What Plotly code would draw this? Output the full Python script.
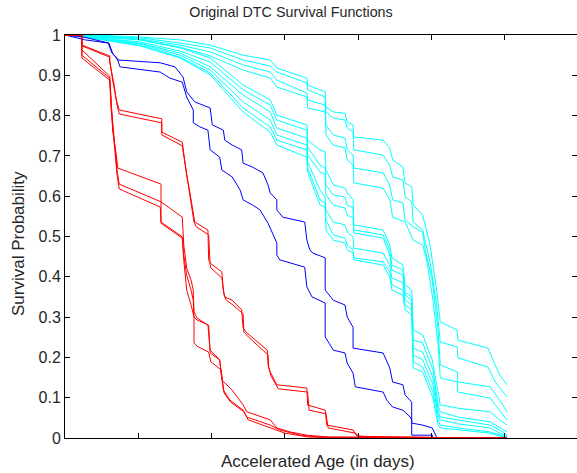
import plotly.graph_objects as go

# ---------------- data (x: accelerated age, y: survival probability) ----------------
red_A1_x = [0, 23, 23, 61, 61, 65, 70, 74, 132, 132, 160, 162, 166, 171, 175, 177, 195, 196, 198, 214, 216, 218, 228, 241, 243, 248, 276, 277, 280, 289, 330, 331, 355, 357, 393, 398, 430, 603]
red_A1_y = [1.0, 1.0, 0.975, 0.948, 0.938, 0.888, 0.839, 0.814, 0.792, 0.759, 0.734, 0.702, 0.653, 0.603, 0.553, 0.536, 0.516, 0.442, 0.434, 0.412, 0.367, 0.350, 0.342, 0.318, 0.273, 0.261, 0.218, 0.181, 0.164, 0.132, 0.124, 0.082, 0.069, 0.032, 0.020, 0.005, 0.002, 0.0]

red_A2_x = [0, 23, 23, 61, 61, 67, 71, 74, 132, 132, 160, 164, 168, 172, 176, 179, 196, 198, 199, 214, 217, 220, 229, 243, 244, 250, 277, 278, 281, 291, 331, 333, 356, 359, 396, 402, 498, 501, 603]
red_A2_y = [1.0, 1.0, 0.973, 0.945, 0.933, 0.876, 0.826, 0.804, 0.782, 0.752, 0.725, 0.677, 0.628, 0.578, 0.536, 0.524, 0.504, 0.429, 0.422, 0.397, 0.355, 0.342, 0.330, 0.308, 0.263, 0.251, 0.206, 0.174, 0.154, 0.122, 0.114, 0.069, 0.060, 0.025, 0.012, 0.004, 0.002, 0.0, 0.0]

red_B1_x = [0, 23, 23, 61, 63, 65, 70, 72, 131, 131, 160, 162, 166, 172, 175, 176, 180, 195, 198, 211, 214, 228, 243, 248, 280, 289, 307, 330, 361, 603]
red_B1_y = [1.0, 1.0, 0.963, 0.898, 0.839, 0.764, 0.702, 0.670, 0.630, 0.586, 0.548, 0.479, 0.422, 0.392, 0.367, 0.313, 0.298, 0.280, 0.218, 0.194, 0.144, 0.119, 0.082, 0.065, 0.045, 0.025, 0.015, 0.007, 0.002, 0.0]

red_B2_x = [0, 23, 23, 61, 63, 67, 71, 74, 131, 131, 160, 162, 166, 172, 175, 176, 180, 196, 198, 211, 216, 225, 243, 248, 280, 293, 321, 348, 603]
red_B2_y = [1.0, 1.0, 0.950, 0.893, 0.826, 0.739, 0.665, 0.630, 0.586, 0.536, 0.499, 0.454, 0.404, 0.367, 0.342, 0.300, 0.293, 0.280, 0.211, 0.194, 0.119, 0.094, 0.069, 0.052, 0.032, 0.020, 0.007, 0.002, 0.0]

red_B3_x = [0, 23, 23, 61, 63, 67, 71, 74, 130, 131, 160, 162, 166, 172, 176, 176, 180, 196, 199, 213, 217, 226, 244, 250, 282, 300, 334, 603]
red_B3_y = [1.0, 1.0, 0.943, 0.888, 0.814, 0.727, 0.653, 0.618, 0.573, 0.533, 0.496, 0.442, 0.367, 0.330, 0.300, 0.236, 0.228, 0.213, 0.189, 0.169, 0.112, 0.089, 0.065, 0.045, 0.025, 0.012, 0.002, 0.0]

blue_1_x = [0, 25, 60, 65, 72, 130, 150, 161, 166, 175, 177, 198, 201, 216, 218, 228, 241, 243, 256, 270, 277, 280, 289, 289, 297, 327, 330, 334, 338, 355, 355, 366, 382, 385, 393, 393, 434, 443, 447, 461, 464, 473, 473, 488, 501, 507, 509, 603]
blue_1_y = [1.0, 0.995, 0.980, 0.955, 0.938, 0.931, 0.921, 0.896, 0.859, 0.839, 0.834, 0.819, 0.777, 0.764, 0.739, 0.727, 0.715, 0.682, 0.672, 0.658, 0.628, 0.608, 0.591, 0.566, 0.548, 0.536, 0.491, 0.467, 0.459, 0.447, 0.367, 0.342, 0.330, 0.300, 0.275, 0.223, 0.211, 0.174, 0.139, 0.132, 0.107, 0.089, 0.037, 0.032, 0.025, 0.002, 0.0, 0.0]

blue_2_x = [0, 27, 59, 64, 71, 75, 130, 143, 160, 166, 175, 175, 184, 195, 198, 211, 214, 228, 239, 243, 256, 266, 277, 289, 289, 293, 327, 330, 337, 355, 355, 366, 382, 385, 393, 396, 434, 439, 447, 461, 471, 473, 473, 501, 502, 603]
blue_2_y = [1.0, 0.988, 0.980, 0.955, 0.943, 0.921, 0.908, 0.893, 0.883, 0.846, 0.814, 0.782, 0.772, 0.764, 0.715, 0.697, 0.665, 0.648, 0.615, 0.591, 0.578, 0.566, 0.533, 0.484, 0.454, 0.442, 0.424, 0.375, 0.350, 0.335, 0.251, 0.218, 0.211, 0.186, 0.161, 0.127, 0.114, 0.094, 0.077, 0.069, 0.052, 0.045, 0.007, 0.007, 0.0, 0.0]

cyan_U1_x = [0, 41, 102, 157, 198, 243, 280, 289, 330, 331, 355, 356, 366, 382, 385, 393, 394, 434, 443, 447, 461, 464, 473, 475, 488, 498, 507, 512, 535, 536, 577, 584, 593, 603]
cyan_U1_y = [1.0, 1.0, 0.995, 0.988, 0.975, 0.950, 0.938, 0.918, 0.893, 0.876, 0.859, 0.821, 0.809, 0.806, 0.784, 0.777, 0.747, 0.739, 0.720, 0.690, 0.672, 0.633, 0.623, 0.578, 0.553, 0.479, 0.367, 0.288, 0.268, 0.243, 0.223, 0.194, 0.156, 0.132]

cyan_U2_x = [0, 41, 102, 157, 198, 243, 280, 289, 330, 331, 355, 356, 366, 382, 385, 393, 394, 434, 443, 447, 461, 464, 473, 475, 488, 498, 507, 512, 535, 536, 577, 587, 603]
cyan_U2_y = [1.0, 0.998, 0.993, 0.980, 0.968, 0.938, 0.923, 0.908, 0.881, 0.864, 0.846, 0.809, 0.794, 0.789, 0.769, 0.759, 0.715, 0.702, 0.677, 0.648, 0.640, 0.598, 0.586, 0.536, 0.516, 0.437, 0.330, 0.238, 0.226, 0.199, 0.176, 0.139, 0.102]

cyan_U3_x = [0, 41, 102, 157, 198, 243, 280, 289, 330, 331, 355, 356, 366, 382, 385, 393, 394, 434, 443, 447, 461, 464, 475, 488, 491, 501, 509, 512, 535, 536, 580, 593, 603]
cyan_U3_y = [1.0, 0.998, 0.990, 0.975, 0.958, 0.926, 0.908, 0.888, 0.856, 0.839, 0.826, 0.777, 0.752, 0.744, 0.715, 0.702, 0.670, 0.658, 0.628, 0.591, 0.583, 0.541, 0.524, 0.511, 0.471, 0.392, 0.268, 0.181, 0.164, 0.139, 0.127, 0.094, 0.065]

cyan_U4_x = [0, 41, 102, 157, 198, 243, 280, 289, 330, 331, 355, 356, 366, 382, 385, 393, 394, 434, 443, 447, 464, 475, 488, 494, 502, 509, 512, 535, 536, 580, 593, 603]
cyan_U4_y = [1.0, 0.995, 0.988, 0.970, 0.948, 0.913, 0.893, 0.871, 0.846, 0.819, 0.809, 0.752, 0.727, 0.720, 0.690, 0.677, 0.633, 0.620, 0.591, 0.548, 0.536, 0.491, 0.479, 0.437, 0.342, 0.231, 0.149, 0.139, 0.114, 0.099, 0.069, 0.045]

cyan_L1_x = [0, 34, 102, 157, 198, 243, 280, 289, 330, 331, 348, 355, 356, 366, 382, 385, 393, 394, 434, 443, 446, 461, 464, 473, 475, 488, 501, 509, 512, 536, 580, 593, 603]
cyan_L1_y = [1.0, 0.998, 0.988, 0.968, 0.943, 0.876, 0.839, 0.801, 0.777, 0.739, 0.715, 0.710, 0.665, 0.628, 0.620, 0.608, 0.591, 0.529, 0.516, 0.479, 0.447, 0.429, 0.380, 0.367, 0.268, 0.256, 0.194, 0.107, 0.082, 0.074, 0.065, 0.045, 0.032]

cyan_L2_x = [0, 34, 102, 157, 198, 243, 280, 289, 330, 331, 348, 355, 356, 366, 382, 385, 393, 394, 434, 443, 446, 461, 464, 473, 475, 488, 502, 509, 512, 536, 580, 593, 603]
cyan_L2_y = [1.0, 0.995, 0.983, 0.960, 0.933, 0.864, 0.826, 0.789, 0.764, 0.722, 0.677, 0.670, 0.628, 0.603, 0.598, 0.578, 0.571, 0.516, 0.504, 0.467, 0.429, 0.417, 0.362, 0.350, 0.243, 0.236, 0.169, 0.082, 0.065, 0.052, 0.040, 0.025, 0.015]

cyan_L3_x = [0, 34, 102, 157, 198, 243, 280, 289, 330, 331, 348, 355, 356, 366, 382, 385, 393, 394, 434, 443, 446, 461, 464, 473, 475, 488, 502, 509, 512, 536, 580, 593, 603]
cyan_L3_y = [1.0, 0.995, 0.980, 0.955, 0.921, 0.851, 0.809, 0.769, 0.744, 0.702, 0.660, 0.653, 0.603, 0.578, 0.571, 0.553, 0.546, 0.509, 0.496, 0.454, 0.417, 0.404, 0.355, 0.342, 0.223, 0.213, 0.149, 0.069, 0.052, 0.045, 0.032, 0.020, 0.007]

cyan_L4_x = [0, 34, 102, 157, 198, 243, 280, 289, 330, 331, 348, 355, 356, 366, 382, 385, 393, 394, 434, 443, 446, 461, 464, 473, 475, 488, 502, 509, 512, 536, 580, 593, 603]
cyan_L4_y = [1.0, 0.993, 0.978, 0.950, 0.913, 0.834, 0.789, 0.752, 0.727, 0.685, 0.615, 0.598, 0.566, 0.536, 0.529, 0.511, 0.499, 0.471, 0.459, 0.429, 0.397, 0.385, 0.342, 0.330, 0.206, 0.194, 0.132, 0.057, 0.045, 0.035, 0.025, 0.012, 0.005]

cyan_L5_x = [0, 34, 102, 157, 198, 243, 280, 289, 330, 331, 348, 355, 356, 366, 382, 385, 393, 394, 434, 443, 446, 461, 464, 473, 475, 488, 502, 509, 512, 536, 580, 593, 603]
cyan_L5_y = [1.0, 0.993, 0.975, 0.945, 0.906, 0.819, 0.772, 0.739, 0.715, 0.670, 0.591, 0.583, 0.541, 0.504, 0.496, 0.479, 0.467, 0.447, 0.437, 0.412, 0.380, 0.367, 0.330, 0.318, 0.189, 0.176, 0.114, 0.045, 0.032, 0.025, 0.015, 0.007, 0.002]

cyan_L6_x = [0, 34, 102, 157, 198, 243, 280, 289, 330, 331, 348, 355, 356, 366, 382, 385, 393, 394, 434, 443, 446, 461, 464, 473, 475, 488, 502, 509, 512, 536, 580, 593, 603]
cyan_L6_y = [1.0, 0.993, 0.973, 0.943, 0.901, 0.809, 0.759, 0.727, 0.697, 0.660, 0.578, 0.573, 0.516, 0.491, 0.484, 0.467, 0.459, 0.442, 0.429, 0.400, 0.367, 0.355, 0.318, 0.305, 0.174, 0.164, 0.099, 0.032, 0.025, 0.020, 0.012, 0.005, 0.002]

x_tick_vals = [0, 100, 200, 300, 400, 500, 600]
y_tick_vals = [0, 0.1, 0.2, 0.3, 0.4, 0.5, 0.6, 0.7, 0.8, 0.9, 1.0]
y_tick_text = ["0", "0.1", "0.2", "0.3", "0.4", "0.5", "0.6", "0.7", "0.8", "0.9", "1"]

title_text = "Original DTC Survival Functions"
x_label = "Accelerated Age (in days)"
y_label = "Survival Probability"

# ---------------- figure ----------------
FONT = "Liberation Sans, Arial, Helvetica, sans-serif"
TXT = "#262626"

series = [
    (cyan_U1_x, cyan_U1_y, "#00FFFF"), (cyan_U2_x, cyan_U2_y, "#00FFFF"),
    (cyan_U3_x, cyan_U3_y, "#00FFFF"), (cyan_U4_x, cyan_U4_y, "#00FFFF"),
    (cyan_L1_x, cyan_L1_y, "#00FFFF"), (cyan_L2_x, cyan_L2_y, "#00FFFF"),
    (cyan_L3_x, cyan_L3_y, "#00FFFF"), (cyan_L4_x, cyan_L4_y, "#00FFFF"),
    (cyan_L5_x, cyan_L5_y, "#00FFFF"), (cyan_L6_x, cyan_L6_y, "#00FFFF"),
    (blue_1_x, blue_1_y, "#0000FF"), (blue_2_x, blue_2_y, "#0000FF"),
    (red_A1_x, red_A1_y, "#FF0000"), (red_A2_x, red_A2_y, "#FF0000"),
    (red_B1_x, red_B1_y, "#FF0000"), (red_B2_x, red_B2_y, "#FF0000"),
    (red_B3_x, red_B3_y, "#FF0000"),
]

fig = go.Figure()
for xs, ys, col in series:
    fig.add_trace(go.Scatter(x=xs, y=ys, mode="lines",
                             line=dict(color=col, width=1),
                             showlegend=False, hoverinfo="skip"))

fig.update_layout(
    width=577, height=473,
    margin=dict(l=65, r=0, t=35, b=35),
    paper_bgcolor="white", plot_bgcolor="white",
    font=dict(family=FONT, color=TXT),
    title=dict(text=title_text, x=291 / 577, xanchor="center",
               y=1 - 12 / 473, yanchor="middle", yref="container",
               font=dict(size=14.3, color=TXT, family=FONT)),
    showlegend=False,
)
fig.update_xaxes(range=[0, 698.5], tickvals=x_tick_vals,
                 ticktext=[""] * len(x_tick_vals),
                 ticks="inside", ticklen=5, tickcolor="black", tickwidth=1,
                 showline=True, linecolor="black", linewidth=1, mirror="ticks",
                 showgrid=False, zeroline=False)
fig.update_yaxes(range=[0, 1], tickvals=y_tick_vals, ticktext=y_tick_text,
                 ticks="inside", ticklen=5, tickcolor="black", tickwidth=1,
                 showline=True, linecolor="black", linewidth=1, mirror="ticks",
                 showgrid=False, zeroline=False,
                 tickfont=dict(size=16, color=TXT, family=FONT))

fig.add_annotation(text=x_label, xref="paper", yref="paper",
                   x=(318 - 65) / 512, y=-(462 - 438) / 403,
                   xanchor="center", yanchor="middle", showarrow=False,
                   font=dict(size=17, color=TXT, family=FONT))
fig.add_annotation(text=y_label, xref="paper", yref="paper",
                   x=(18 - 65) / 512, y=(438 - 244) / 403, textangle=-90,
                   xanchor="center", yanchor="middle", showarrow=False,
                   font=dict(size=17, color=TXT, family=FONT))

fig.write_html("out.html")
